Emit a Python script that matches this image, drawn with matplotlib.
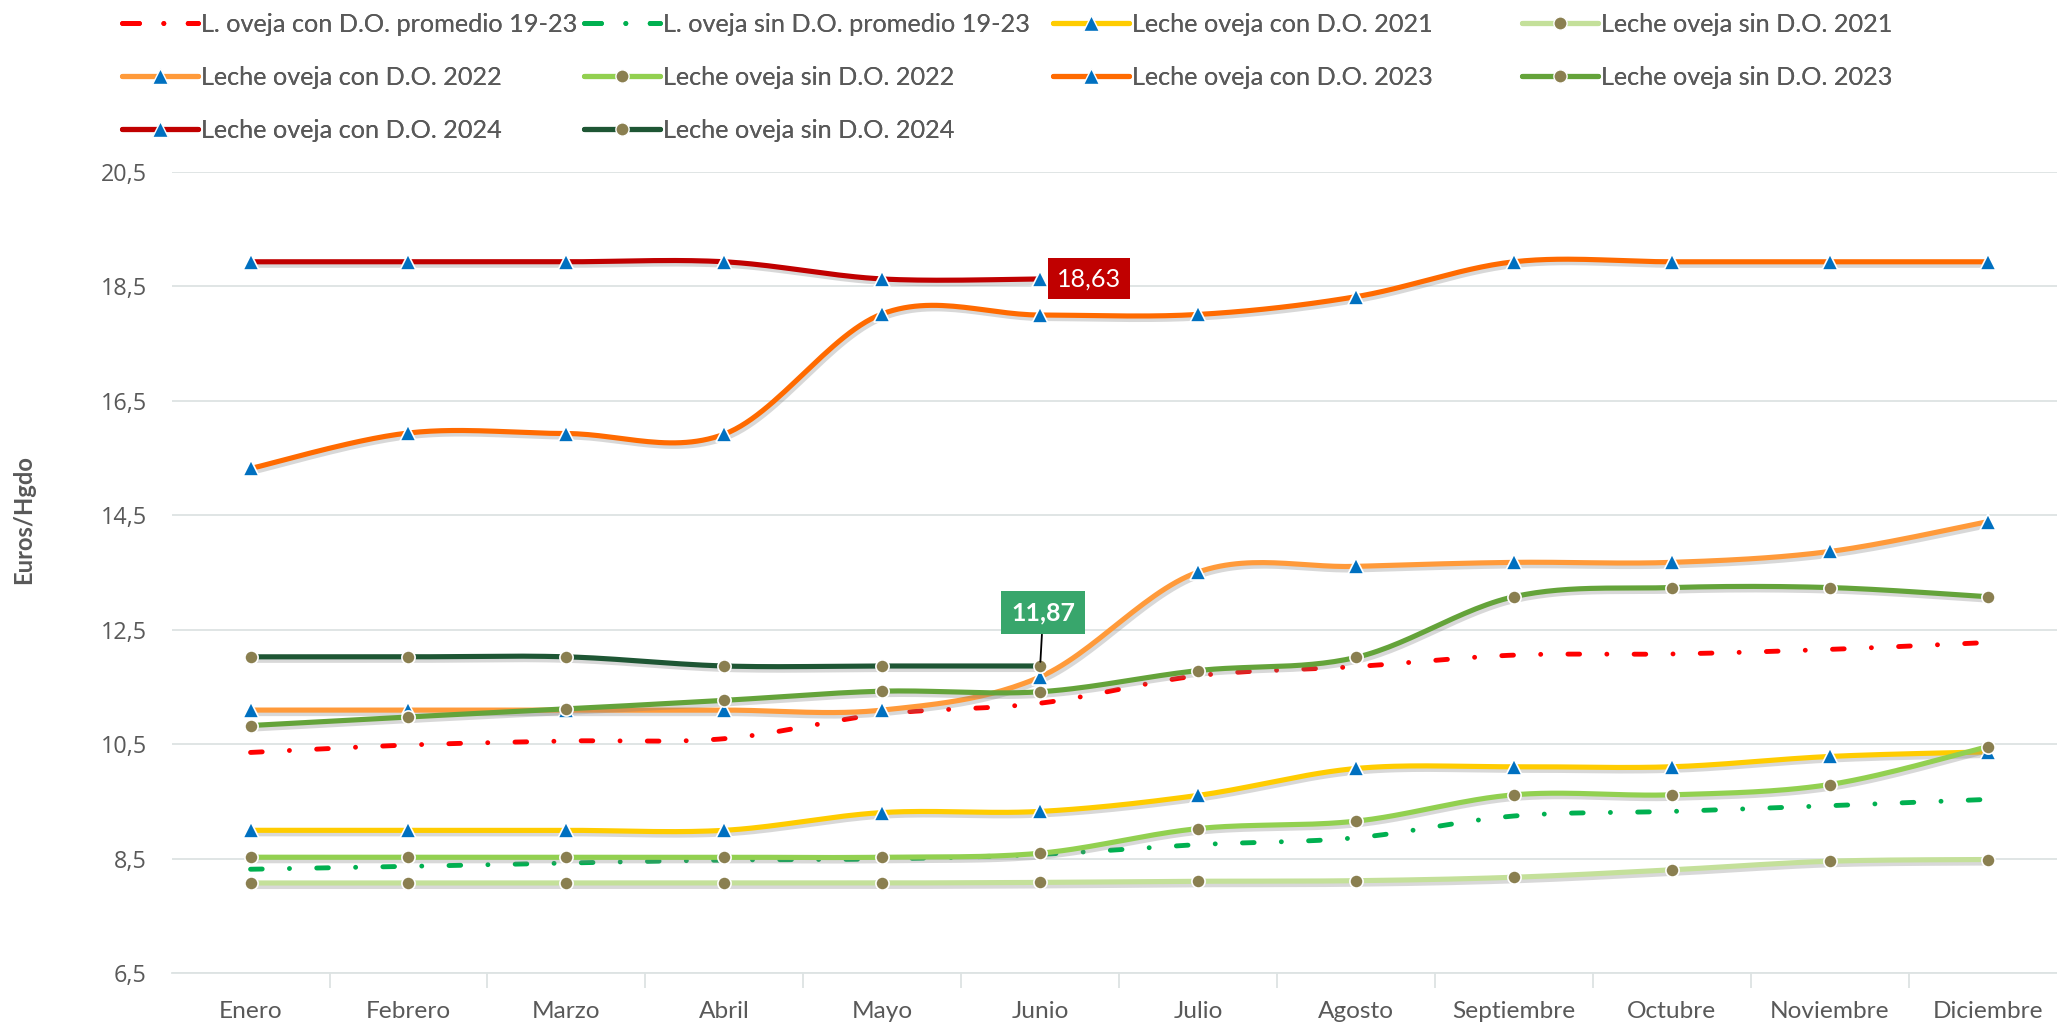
import matplotlib
matplotlib.use("Agg")
import matplotlib.pyplot as plt
import matplotlib.patheffects as pe
from matplotlib.lines import Line2D
from matplotlib.ticker import FixedLocator, FuncFormatter
import numpy as np

TEXT_FONT = ['Lato', 'DejaVu Sans']
NUM_FONT = ['Open Sans', 'DejaVu Sans']
GREY = '#595959'

meses = ['Enero', 'Febrero', 'Marzo', 'Abril', 'Mayo', 'Junio', 'Julio',
         'Agosto', 'Septiembre', 'Octubre', 'Noviembre', 'Diciembre']

prom_con = [10.36, 10.49, 10.56, 10.60, 11.03, 11.22, 11.70, 11.86, 12.06, 12.08, 12.16, 12.28]
prom_sin = [8.32, 8.37, 8.43, 8.48, 8.50, 8.58, 8.75, 8.87, 9.25, 9.33, 9.43, 9.54]
con_2021 = [9.00, 9.00, 9.00, 9.00, 9.31, 9.33, 9.61, 10.08, 10.11, 10.11, 10.29, 10.37]
sin_2021 = [8.08, 8.08, 8.08, 8.08, 8.08, 8.09, 8.11, 8.12, 8.18, 8.31, 8.46, 8.49]
con_2022 = [11.10, 11.10, 11.10, 11.10, 11.10, 11.68, 13.51, 13.61, 13.68, 13.68, 13.87, 14.39]
sin_2022 = [8.53, 8.53, 8.53, 8.53, 8.53, 8.60, 9.03, 9.16, 9.62, 9.62, 9.80, 10.46]
con_2023 = [15.32, 15.94, 15.93, 15.92, 18.02, 18.00, 18.01, 18.32, 18.93, 18.93, 18.93, 18.93]
sin_2023 = [10.83, 10.98, 11.12, 11.27, 11.43, 11.42, 11.79, 12.02, 13.08, 13.24, 13.24, 13.08]
con_2024 = [18.93, 18.93, 18.93, 18.93, 18.63, 18.63]
sin_2024 = [12.03, 12.03, 12.03, 11.87, 11.87, 11.87]

# label, values, colour, kind
series = [
    ('L. oveja con D.O. promedio 19-23', prom_con, '#FF0000', 'avg'),
    ('L. oveja sin D.O. promedio 19-23', prom_sin, '#00B050', 'avg'),
    ('Leche oveja con D.O. 2021', con_2021, '#FFCC00', 'con'),
    ('Leche oveja sin D.O. 2021', sin_2021, '#C4E09A', 'sin'),
    ('Leche oveja con D.O. 2022', con_2022, '#FF9A3A', 'con'),
    ('Leche oveja sin D.O. 2022', sin_2022, '#92D050', 'sin'),
    ('Leche oveja con D.O. 2023', con_2023, '#FF6A00', 'con'),
    ('Leche oveja sin D.O. 2023', sin_2023, '#64A33A', 'sin'),
    ('Leche oveja con D.O. 2024', con_2024, '#C00000', 'con'),
    ('Leche oveja sin D.O. 2024', sin_2024, '#1E5634', 'sin'),
]

MARKER_BLUE = '#0070C0'
MARKER_OLIVE = '#8A7F50'
DASHDOT = (0, (2.4, 5.6, 0.01, 5.6))
PX = 100 / 72  # pixels per point


def smooth(x, y, n=30):
    """Excel-like smoothed line (Catmull-Rom bezier)"""
    x = np.asarray(x, float)
    y = np.asarray(y, float)
    px = np.concatenate([[x[0]], x, [x[-1]]])
    py = np.concatenate([[y[0]], y, [y[-1]]])
    xs, ys = [], []
    t = np.linspace(0, 1, n)
    for i in range(1, len(px) - 2):
        p0 = np.array([px[i], py[i]])
        p3 = np.array([px[i + 1], py[i + 1]])
        c1 = p0 + (np.array([px[i + 1], py[i + 1]]) - np.array([px[i - 1], py[i - 1]])) / 6
        c2 = p3 - (np.array([px[i + 2], py[i + 2]]) - np.array([px[i], py[i]])) / 6
        b = ((1 - t) ** 3)[:, None] * p0 + (3 * (1 - t) ** 2 * t)[:, None] * c1 \
            + (3 * (1 - t) * t ** 2)[:, None] * c2 + (t ** 3)[:, None] * p3
        xs.extend(b[:, 0])
        ys.extend(b[:, 1])
    return np.array(xs), np.array(ys)


def fit_size(fig, text, width_px, **kw):
    """font size that makes text about width_px wide (Calibri is not installed)"""
    t = fig.text(0, 0, text, fontsize=20, **kw)
    w = t.get_window_extent(renderer=fig.canvas.get_renderer()).width
    t.remove()
    return 20 * width_px / w


fig = plt.figure(figsize=(20.57, 10.25), dpi=100)
ax = fig.add_axes([171.6 / 2057, 0.0503, 1895 / 2057, 0.782])

legend_size = fit_size(fig, 'L. oveja con D.O. promedio 19-23', 377, family=TEXT_FONT)
month_size = fit_size(fig, 'Septiembre', 123, family=TEXT_FONT)
ytick_size = fit_size(fig, '20,5', 46, family=NUM_FONT)
ylabel_size = fit_size(fig, 'Euros/Hgdo', 129, family=TEXT_FONT, fontweight='bold')
lab1_size = fit_size(fig, '18,63', 64, family=TEXT_FONT)
lab2_size = fit_size(fig, '11,87', 64, family=TEXT_FONT, fontweight='bold')

shadow = [pe.SimpleLineShadow(offset=(1.5, -2.5), shadow_color='#7F7F7F', alpha=0.3),
          pe.Normal()]

handles = []
for i, (label, vals, color, kind) in enumerate(series):
    x = np.arange(len(vals))
    sx, sy = smooth(x, vals)
    z = 3 + i
    if kind == 'avg':
        ax.plot(sx, sy, color=color, lw=3.5, linestyle=DASHDOT,
                dash_capstyle='round', zorder=z)
        h = Line2D([], [], color=color, lw=3.5, linestyle=(0, (3.5, 5.0, 0.01, 5.0)),
                   dash_capstyle='round')
    else:
        marker = '^' if kind == 'con' else 'o'
        mcolor = MARKER_BLUE if kind == 'con' else MARKER_OLIVE
        msize = 11 if kind == 'con' else 9.5
        ax.plot(sx, sy, color=color, lw=3.7, solid_capstyle='round',
                zorder=z, path_effects=shadow)
        ax.plot(x, vals, linestyle='none', marker=marker, markersize=msize,
                markerfacecolor=mcolor, markeredgecolor='white',
                markeredgewidth=1.2, zorder=z)
        h = Line2D([], [], color=color, lw=3.7, marker=marker,
                   markersize=msize, markerfacecolor=mcolor,
                   markeredgecolor='white', markeredgewidth=1.0,
                   solid_capstyle='round')
    handles.append((h, label))

# data labels
ax.annotate('18,63', xy=(5, con_2024[5]), xytext=(17, 0), textcoords='offset pixels',
            ha='left', va='center', color='white', fontsize=lab1_size, family=TEXT_FONT,
            bbox=dict(boxstyle='square,pad=%.3f' % (9 / (lab1_size * PX)),
                      fc='#C00000', ec='none'), zorder=20)
ax.annotate('11,87', xy=(5, sin_2024[5]), xytext=(3, 53), textcoords='offset pixels',
            ha='center', va='center', color='white', fontsize=lab2_size, fontweight='bold',
            family=TEXT_FONT,
            bbox=dict(boxstyle='square,pad=%.3f' % (10 / (lab2_size * PX)),
                      fc='#38A66C', ec='none'),
            arrowprops=dict(arrowstyle='-', color='black', lw=1.3,
                            shrinkA=0, shrinkB=3), zorder=20)

# axes styling
ax.set_xlim(-0.5, 11.5)
ax.set_ylim(6.5, 20.5)
ax.yaxis.set_major_locator(FixedLocator(np.arange(6.5, 20.6, 2)))
ax.yaxis.set_major_formatter(FuncFormatter(lambda v, p: f'{v:.1f}'.replace('.', ',')))
ax.grid(axis='y', color='#DDE3E3', lw=1.3)
ax.set_axisbelow(True)
for s in ['top', 'right', 'left']:
    ax.spines[s].set_visible(False)
ax.spines['bottom'].set_color('#DDE3E3')
ax.spines['bottom'].set_linewidth(1.3)
ax.tick_params(axis='y', length=0, pad=18, labelsize=ytick_size, labelcolor=GREY)
for lbl in ax.get_yticklabels():
    lbl.set_family(NUM_FONT)
ax.set_xticks(range(12))
ax.set_xticklabels(meses, family=TEXT_FONT, fontsize=month_size, color=GREY)
ax.tick_params(axis='x', which='major', length=0, pad=20)
ax.set_xticks(np.arange(0.5, 11, 1), minor=True)
ax.tick_params(axis='x', which='minor', length=11, width=1.3, color='#DDE3E3')

fig.text(24 / 2057, 1 - 520 / 1025, 'Euros/Hgdo', rotation=90, ha='center', va='center',
         fontsize=ylabel_size, fontweight='bold', color=GREY, family=TEXT_FONT)

# legend, filled row by row with equal column widths like the original
col_x = [122, 584, 1053, 1522]
for c in range(4):
    items = handles[c::4]
    leg = fig.legend([h for h, _ in items], [l for _, l in items],
                     loc='upper left', bbox_to_anchor=(col_x[c] / 2057, 1 - 13 / 1025),
                     frameon=False, handlelength=76 / (legend_size * PX),
                     handletextpad=0.1, labelspacing=1.18, borderaxespad=0,
                     borderpad=0, prop=dict(family=TEXT_FONT, size=legend_size))
    for t in leg.get_texts():
        t.set_color(GREY)
    fig.add_artist(leg)

fig.savefig('out.png', dpi=100)
